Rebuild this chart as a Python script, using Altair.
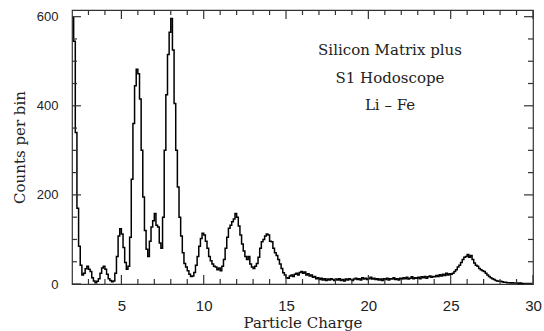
import altair as alt
import pandas as pd

# ---- data (counts per 0.1-charge bin, starting at charge 2.0) ----
bin_start = 2.0
bin_width = 0.1
counts = [
    598, 545, 340, 170, 85, 42, 20, 24, 34, 40,      # 2.x
    33, 28, 14, 7, 3, 6, 12, 24, 36, 40,             # 3.x
    33, 22, 12, 8, 5, 7, 24, 62, 108, 124,           # 4.x
    112, 82, 48, 33, 40, 105, 235, 360, 445, 482,    # 5.x
    472, 415, 300, 195, 120, 78, 62, 96, 128, 142,   # 6.x
    158, 132, 128, 92, 80, 150, 300, 425, 515, 565,  # 7.x
    596, 525, 405, 300, 218, 150, 108, 70, 46, 38,   # 8.x
    30, 22, 17, 18, 26, 42, 62, 85, 102, 114,        # 9.x
    110, 96, 80, 62, 52, 45, 40, 38, 32, 36,         # 10.x
    30, 40, 55, 80, 105, 125, 132, 140, 146, 158,    # 11.x
    150, 130, 110, 90, 74, 62, 55, 62, 45, 38,       # 12.x
    35, 40, 46, 60, 80, 95, 100, 108, 112, 110,      # 13.x
    96, 95, 80, 70, 64, 55, 45, 35, 25, 20,          # 14.x
    14, 13, 18, 20, 17, 22, 24, 20, 26, 28,          # 15.x
    24, 27, 20, 23, 18, 20, 15, 17, 12, 14,          # 16.x
    10, 13, 9, 12, 8, 11, 9, 12, 10, 8,              # 17.x
    11, 9, 12, 8, 10, 7, 11, 9, 12, 10,              # 18.x
    8, 11, 13, 10, 12, 9, 14, 11, 13, 10,            # 19.x
    12, 15, 11, 13, 10, 12, 9, 11, 8, 12,            # 20.x
    10, 13, 9, 12, 11, 14, 10, 12, 9, 13,            # 21.x
    11, 14, 12, 15, 11, 13, 16, 12, 14, 13,          # 22.x
    15, 12, 16, 14, 17, 13, 16, 18, 15, 17,          # 23.x
    16, 19, 17, 21, 18, 22, 19, 24, 20, 23,          # 24.x
    22, 24, 28, 32, 38, 42, 48, 55, 60, 62,          # 25.x
    66, 60, 64, 55, 47, 42, 40, 35, 32, 30,          # 26.x
    28, 24, 20, 17, 14, 12, 10, 8, 7, 6,             # 27.x
    6, 5, 4, 4, 3, 3, 2, 3, 2, 2,                    # 28.x
    2, 1, 2, 1, 1, 1, 1, 1, 1, 1,                    # 29.x
]
x_major = [5, 10, 15, 20, 25, 30]
x_minor = [3, 4, 6, 7, 8, 9, 11, 12, 13, 14, 16, 17, 18, 19,
           21, 22, 23, 24, 26, 27, 28, 29]
y_major = [0, 200, 400, 600]
y_minor = [50, 100, 150, 250, 300, 350, 450, 500, 550]
annotation = ["Silicon Matrix plus", "S1 Hodoscope", "Li \u2013 Fe"]
x_title = "Particle Charge"
y_title = "Counts per bin"

charge = [round(bin_start + bin_width * (i + 0.5), 3) for i in range(len(counts))]
df = pd.DataFrame({"charge": charge, "counts": counts})

W, H = 461, 274
xs = alt.Scale(domain=[2, 30], nice=False, zero=False)
ys = alt.Scale(domain=[0, 615], nice=False)

TICK = "#333333"
SERIF = "DejaVu Serif"
SANS = "Liberation Sans"

main = alt.Chart(df).mark_line(interpolate="step", color="black", strokeWidth=1.5).encode(
    x=alt.X("charge:Q", scale=xs,
            axis=alt.Axis(values=x_major, ticks=False, domain=False, grid=False,
                          labelPadding=14, labelFlush=False,
                          labelFont=SANS, labelFontSize=15, labelColor="#222",
                          title=x_title, titleFont=SERIF, titleFontSize=15,
                          titleFontWeight="normal", titleColor="#222",
                          titleY=43, titleBaseline="alphabetic")),
    y=alt.Y("counts:Q", scale=ys,
            axis=alt.Axis(values=y_major, ticks=False, domain=False, grid=False,
                          labelPadding=14, labelFlush=False,
                          labelFont=SANS, labelFontSize=13, labelColor="#222",
                          title=y_title, titleFont=SERIF, titleFontSize=15,
                          titleFontWeight="normal", titleColor="#222",
                          titleX=-48, titleY=H / 2, titleBaseline="alphabetic")),
)


def xticks(vals, size):
    d = pd.DataFrame({"v": vals})
    enc_x = alt.X("v:Q", scale=xs, axis=None)
    bottom = alt.Chart(d).mark_rule(color=TICK, strokeWidth=1.2).encode(
        x=enc_x, y=alt.value(H), y2=alt.value(H - size))
    top = alt.Chart(d).mark_rule(color=TICK, strokeWidth=1.2).encode(
        x=enc_x, y=alt.value(0), y2=alt.value(size))
    return [bottom, top]


def yticks(vals, size):
    d = pd.DataFrame({"v": vals})
    enc_y = alt.Y("v:Q", scale=ys, axis=None)
    left = alt.Chart(d).mark_rule(color=TICK, strokeWidth=1.2).encode(
        y=enc_y, x=alt.value(0), x2=alt.value(size))
    right = alt.Chart(d).mark_rule(color=TICK, strokeWidth=1.2).encode(
        y=enc_y, x=alt.value(W), x2=alt.value(W - size))
    return [left, right]


tick_layers = xticks(x_major, 9) + xticks(x_minor, 5) + yticks(y_major, 9) + yticks(y_minor, 5)

text_layers = []
for s, yy in zip(annotation, [40, 68, 95]):
    text_layers.append(
        alt.Chart(pd.DataFrame({"t": [s]})).mark_text(
            font=SERIF, fontSize=15, align="center", baseline="middle", color="#222"
        ).encode(text="t:N", x=alt.value(318), y=alt.value(yy))
    )

chart = alt.layer(main, *tick_layers, *text_layers).resolve_axis(
    x="independent", y="independent"
).properties(
    width=W, height=H,
    padding={"left": 72, "top": 10, "right": 11, "bottom": 47},
    autosize=alt.AutoSizeParams(type="none"),
    background="white",
).configure_view(stroke=TICK, strokeWidth=1.2)

chart.save("out.html", embed_options={"renderer": "svg", "actions": False})
